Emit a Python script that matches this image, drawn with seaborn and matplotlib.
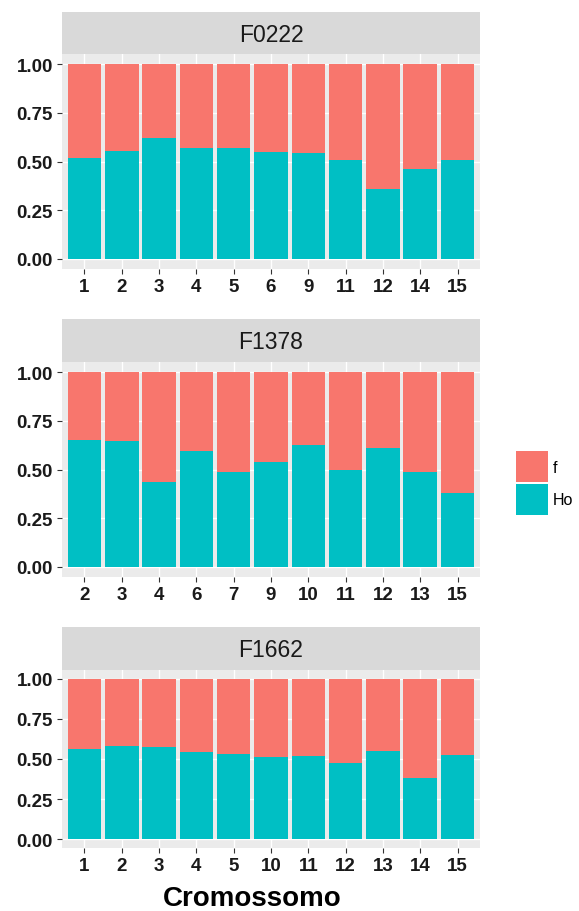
import matplotlib
matplotlib.use('Agg')
import matplotlib.pyplot as plt
from matplotlib.patches import Patch
import seaborn as sns

# Chromosome labels and Ho / f proportions per sample
chrom_f0222 = ['1', '2', '3', '4', '5', '6', '9', '11', '12', '14', '15']
ho_f0222 = [0.52, 0.555, 0.62, 0.567, 0.567, 0.547, 0.545, 0.507, 0.356, 0.46, 0.507]
f_f0222 = [0.48, 0.445, 0.38, 0.433, 0.433, 0.453, 0.455, 0.493, 0.644, 0.54, 0.493]

chrom_f1378 = ['2', '3', '4', '6', '7', '9', '10', '11', '12', '13', '15']
ho_f1378 = [0.653, 0.649, 0.438, 0.595, 0.488, 0.54, 0.627, 0.497, 0.613, 0.488, 0.378]
f_f1378 = [0.347, 0.351, 0.562, 0.405, 0.512, 0.46, 0.373, 0.503, 0.387, 0.512, 0.622]

chrom_f1662 = ['1', '2', '3', '4', '5', '10', '11', '12', '13', '14', '15']
ho_f1662 = [0.562, 0.583, 0.573, 0.544, 0.531, 0.512, 0.519, 0.477, 0.55, 0.384, 0.523]
f_f1662 = [0.438, 0.417, 0.427, 0.456, 0.469, 0.488, 0.481, 0.523, 0.45, 0.616, 0.477]

samples = ['F0222', 'F1378', 'F1662']
chroms = [chrom_f0222, chrom_f1378, chrom_f1662]
hos = [ho_f0222, ho_f1378, ho_f1662]
fs = [f_f0222, f_f1378, f_f1662]

F_COL = '#F8766D'
HO_COL = '#00BFC4'

plt.rcParams['font.family'] = ['Liberation Sans', 'DejaVu Sans']

W, H = 579, 912
fig = plt.figure(figsize=(W / 100, H / 100), dpi=100)

# pixel boxes: (panel top, panel bottom, strip top)
boxes = [(55, 270, 13), (363, 578, 320), (671, 849, 628)]
x0, x1 = 62, 480

for (top, bot, stop), name, ch, ho, f in zip(boxes, samples, chroms, hos, fs):
    ax = fig.add_axes([x0 / W, 1 - bot / H, (x1 - x0) / W, (bot - top) / H])
    ax.set_facecolor('#EBEBEB')
    total = [a + b for a, b in zip(ho, f)]
    sns.barplot(x=ch, y=total, order=ch, color=F_COL, saturation=1, width=0.9,
                linewidth=0, ax=ax, zorder=2)
    sns.barplot(x=ch, y=ho, order=ch, color=HO_COL, saturation=1, width=0.9,
                linewidth=0, ax=ax, zorder=3)
    ax.set_xlim(-0.6, len(ch) - 0.4)
    ax.set_ylim(-0.054, 1.054)
    ax.set_yticks([0, 0.25, 0.5, 0.75, 1.0])
    ax.set_yticklabels(['0.00', '0.25', '0.50', '0.75', '1.00'])
    ax.grid(True, color='white', linewidth=1.0, zorder=0)
    ax.set_axisbelow(True)
    for s in ax.spines.values():
        s.set_visible(False)
    ax.tick_params(axis='both', length=3.5, width=0.8, color='#333333', pad=3,
                   labelsize=13.5, labelcolor='#1a1a1a')
    for lab in ax.get_xticklabels() + ax.get_yticklabels():
        lab.set_fontweight('bold')
    ax.set_xlabel('')
    ax.set_ylabel('')

    sax = fig.add_axes([x0 / W, 1 - top / H, (x1 - x0) / W, (top - stop) / H])
    sax.set_facecolor('#D9D9D9')
    sax.set_xticks([])
    sax.set_yticks([])
    for s in sax.spines.values():
        s.set_visible(False)
    sax.text(0.5, 0.47, name, ha='center', va='center', fontsize=16.5,
             color='#1a1a1a', transform=sax.transAxes)

fig.text(252 / W, 6 / H, 'Cromossomo', ha='center', va='baseline',
         fontsize=20, fontweight='bold', color='black')

handles = [Patch(facecolor=F_COL, label='f'), Patch(facecolor=HO_COL, label='Ho')]
fig.legend(handles=handles, loc='center left', bbox_to_anchor=(516 / W, 1 - 484 / H),
           frameon=False, fontsize=11.5, handlelength=2.0, handleheight=2.6,
           labelspacing=0.1, handletextpad=0.3, borderaxespad=0, borderpad=0)

fig.savefig('out.png', dpi=100)
